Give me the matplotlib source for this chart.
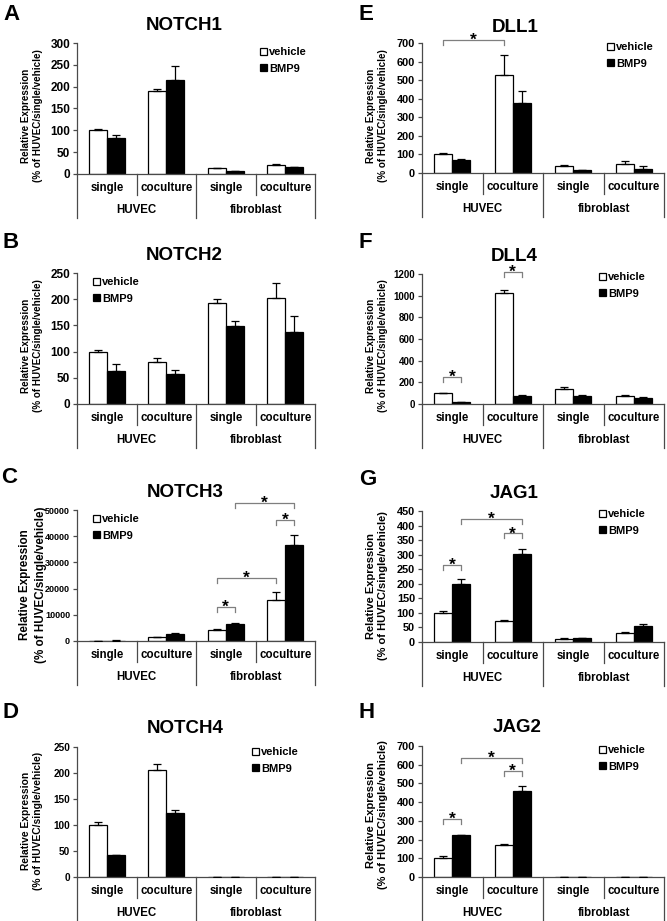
import numpy as np
import matplotlib.pyplot as plt
from matplotlib import transforms

plt.rcParams['font.family'] = ['Liberation Sans', 'DejaVu Sans']
plt.rcParams['font.weight'] = 'bold'

# --- data ---
categories = ['single', 'coculture', 'single', 'coculture']
groups = ['HUVEC', 'fibroblast']
series = ['vehicle', 'BMP9']

notch1_veh = [100, 189, 13, 20]
notch1_veh_err = [3, 6, 1, 4]
notch1_bmp = [82, 215, 7, 15]
notch1_bmp_err = [8, 33, 1, 2]

notch2_veh = [100, 81, 193, 203]
notch2_veh_err = [3, 7, 8, 28]
notch2_bmp = [63, 57, 149, 137]
notch2_bmp_err = [14, 7, 10, 31]

notch3_veh = [100, 1400, 4100, 15500]
notch3_veh_err = [30, 300, 300, 3200]
notch3_bmp = [150, 2700, 6300, 36500]
notch3_bmp_err = [50, 300, 700, 4000]
notch3_sig = [(1.85, 2.15, 13100), (1.85, 2.85, 23900),
              (2.85, 3.15, 46200), (2.15, 3.15, 52800)]

notch4_veh = [100, 205, 0, 0]
notch4_veh_err = [6, 12, 0, 0]
notch4_bmp = [42, 124, 0, 0]
notch4_bmp_err = [1, 5, 0, 0]

dll1_veh = [100, 530, 38, 50]
dll1_veh_err = [5, 105, 5, 15]
dll1_bmp = [68, 378, 15, 20]
dll1_bmp_err = [8, 65, 2, 15]
dll1_sig = [(-0.15, 0.85, 714)]

dll4_veh = [100, 1025, 140, 72]
dll4_veh_err = [5, 25, 20, 10]
dll4_bmp = [18, 75, 78, 55]
dll4_bmp_err = [2, 5, 5, 5]
dll4_sig = [(-0.15, 0.15, 246), (0.85, 1.15, 1218)]

jag1_veh = [100, 73, 12, 30]
jag1_veh_err = [8, 3, 1, 5]
jag1_bmp = [200, 302, 13, 55]
jag1_bmp_err = [15, 18, 2, 7]
jag1_sig = [(-0.15, 0.15, 264), (0.85, 1.15, 373), (0.15, 1.15, 424)]

jag2_veh = [100, 170, 0, 0]
jag2_veh_err = [10, 5, 0, 0]
jag2_bmp = [222, 458, 0, 0]
jag2_bmp_err = [5, 28, 0, 0]
jag2_sig = [(-0.15, 0.15, 312), (0.85, 1.15, 566), (0.15, 1.15, 634)]

W, H = 667, 921
fig = plt.figure(figsize=(W / 100, H / 100), dpi=100)
LC = '#4a4a4a'


def fx(p):
    return p / W


def fy(p):
    return 1 - p / H


def panel(letter, gene, veh, veh_err, bmp, bmp_err, ymax, ystep, sig, lay):
    l, t, r, b = lay['box']
    h = b - t
    ax = fig.add_axes([fx(l), fy(b), (r - l) / W, h / H])
    x = np.arange(len(categories))
    w = 0.3
    bv = ax.bar(x - w / 2, veh, w, color='white', edgecolor='black', lw=0.9, zorder=2)
    bb = ax.bar(x + w / 2, bmp, w, color='black', edgecolor='black', lw=0.9, zorder=2)
    z = np.zeros(len(x))
    ax.errorbar(x - w / 2, veh, yerr=[z, veh_err], fmt='none', ecolor='black',
                elinewidth=0.9, capsize=3, capthick=0.9, zorder=3)
    ax.errorbar(x + w / 2, bmp, yerr=[z, bmp_err], fmt='none', ecolor='black',
                elinewidth=0.9, capsize=3, capthick=0.9, zorder=3)

    ax.set_xlim(-0.5, 3.5)
    ax.set_ylim(0, ymax)
    ax.set_yticks(np.arange(0, ymax + 1, ystep))
    ax.tick_params(axis='y', labelsize=lay['tick'], length=3, color=LC, width=0.9, pad=2)
    ax.set_xticks([])
    for s in ['top', 'right']:
        ax.spines[s].set_visible(False)
    for s in ['left', 'bottom']:
        ax.spines[s].set_color(LC)
        ax.spines[s].set_linewidth(0.9)

    # two-level category axis
    tr = transforms.blended_transform_factory(ax.transData, ax.transAxes)
    for xs, depth in [(-0.5, 44), (0.5, 21), (1.5, 44), (2.5, 21), (3.5, 44)]:
        ax.plot([xs, xs], [0, -depth / h], transform=tr, clip_on=False, color=LC, lw=0.9)
    for i, c in enumerate(categories):
        ax.text(i, -14 / h, c, transform=tr, ha='center', va='center', fontsize=8.3)
    for i, g in enumerate(groups):
        ax.text(0.5 + 2 * i, -36 / h, g, transform=tr, ha='center', va='center', fontsize=8.3)

    # significance brackets
    drop = ymax * 5 / h
    for x1, x2, yt in sig:
        ax.plot([x1, x1, x2, x2], [yt - drop, yt, yt, yt - drop], color='#7f7f7f',
                lw=0.9, clip_on=False)
        ax.annotate('*', ((x1 + x2) / 2, yt), xytext=(0, -3.5), textcoords='offset points',
                    ha='center', va='baseline', fontsize=12.5, annotation_clip=False)

    lx, ly = lay['legend']
    ax.legend([bv, bb], series, loc='upper left', bbox_to_anchor=(fx(lx), fy(ly - 6)),
              bbox_transform=fig.transFigure, frameon=False, borderpad=0, borderaxespad=0,
              handlelength=0.6, handleheight=0.6, handletextpad=0.2, labelspacing=0.6,
              fontsize=8)

    cx, cy = lay['ylabel']
    fig.text(fx(cx), fy(cy), 'Relative Expression\n(% of HUVEC/single/vehicle)',
             rotation=90, ha='center', va='center', multialignment='center',
             linespacing=1.35, fontsize=lay['ylab'])
    tx, ty = lay['title']
    fig.text(fx(tx), fy(ty), gene, ha='center', va='baseline', fontsize=13.5)
    px, py = lay['letter']
    fig.text(fx(px), fy(py), letter, ha='left', va='baseline', fontsize=16)
    return ax


layout = {
    'A': dict(box=(77, 43, 315, 174), tick=8.5, ylab=7.1, ylabel=(32, 116),
              title=(184, 30), letter=(3, 20), legend=(260, 53)),
    'B': dict(box=(77, 273, 315, 404), tick=8.5, ylab=7.1, ylabel=(32, 346),
              title=(184, 260), letter=(3, 248), legend=(93, 283)),
    'C': dict(box=(77, 510, 315, 641), tick=6.5, ylab=8.4, ylabel=(33, 585),
              title=(185, 497), letter=(1, 483), legend=(93, 520)),
    'D': dict(box=(77, 747, 315, 877), tick=7.2, ylab=7.4, ylabel=(32, 821),
              title=(185, 733), letter=(2, 718), legend=(252, 753)),
    'E': dict(box=(422, 43, 664, 173), tick=7.9, ylab=7.1, ylabel=(377, 116),
              title=(515, 32), letter=(359, 20), legend=(607, 48)),
    'F': dict(box=(422, 274, 664, 404), tick=7.0, ylab=7.1, ylabel=(377, 346),
              title=(514, 261), letter=(359, 248), legend=(599, 278)),
    'G': dict(box=(422, 511, 664, 642), tick=7.9, ylab=8.0, ylabel=(377, 586),
              title=(514, 498), letter=(359, 485), legend=(599, 515)),
    'H': dict(box=(422, 746, 664, 877), tick=7.9, ylab=8.0, ylabel=(377, 815),
              title=(517, 732), letter=(359, 718), legend=(599, 751)),
}

panel('A', 'NOTCH1', notch1_veh, notch1_veh_err, notch1_bmp, notch1_bmp_err, 300, 50, [], layout['A'])
panel('B', 'NOTCH2', notch2_veh, notch2_veh_err, notch2_bmp, notch2_bmp_err, 250, 50, [], layout['B'])
panel('C', 'NOTCH3', notch3_veh, notch3_veh_err, notch3_bmp, notch3_bmp_err, 50000, 10000, notch3_sig, layout['C'])
panel('D', 'NOTCH4', notch4_veh, notch4_veh_err, notch4_bmp, notch4_bmp_err, 250, 50, [], layout['D'])
panel('E', 'DLL1', dll1_veh, dll1_veh_err, dll1_bmp, dll1_bmp_err, 700, 100, dll1_sig, layout['E'])
panel('F', 'DLL4', dll4_veh, dll4_veh_err, dll4_bmp, dll4_bmp_err, 1200, 200, dll4_sig, layout['F'])
panel('G', 'JAG1', jag1_veh, jag1_veh_err, jag1_bmp, jag1_bmp_err, 450, 50, jag1_sig, layout['G'])
panel('H', 'JAG2', jag2_veh, jag2_veh_err, jag2_bmp, jag2_bmp_err, 700, 100, jag2_sig, layout['H'])

fig.savefig('out.png', dpi=100)
